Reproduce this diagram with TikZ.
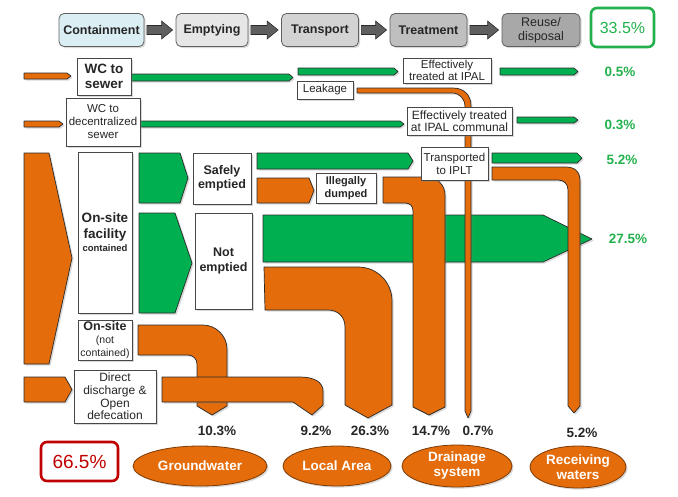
\documentclass[tikz,border=0pt]{standalone}
\usepackage{fontspec}
\setmainfont{Liberation Sans}
\usetikzlibrary{shadows,calc,shapes.geometric}
\definecolor{org}{HTML}{E46C0A}
\definecolor{grn}{HTML}{00B050}
\definecolor{pgrn}{HTML}{22B14C}
\definecolor{dred}{HTML}{C00000}
\definecolor{txt}{HTML}{262626}
\definecolor{edge}{HTML}{2A2A2A}
\definecolor{hblue}{HTML}{DAEEF3}
\definecolor{hgA}{HTML}{E6E6E6}
\definecolor{hgB}{HTML}{D3D3D3}
\definecolor{hgC}{HTML}{BFBFBF}
\definecolor{hgD}{HTML}{A8A8A8}
\definecolor{harrcol}{HTML}{5F5F5F}
\newcommand\fbar[6]{\path[#1] (#2,#3) -- ({#4-#6},#3) -- (#4,{(#3+#5)/2}) -- ({#4-#6},#5) -- (#2,#5) -- cycle;}
\newcommand\harr[2]{%
  \coordinate (ha) at ($(#1.east)+(2.5,0)$);
  \coordinate (hb) at ($(#2.west)+(-3,0)$);
  \path[harrow] ($(ha)+(0,-4.5)$) -- ($(hb)+(-11,-4.5)$) -- ($(hb)+(-11,-9)$) -- (hb)
     -- ($(hb)+(-11,9)$) -- ($(hb)+(-11,4.5)$) -- ($(ha)+(0,4.5)$) -- cycle;}
\tikzset{
  shad/.style={drop shadow={shadow xshift=1.6pt, shadow yshift=-1.6pt, opacity=0.3}},
  flowo/.style={fill=org, draw=edge, line width=0.7pt, line join=round, shad},
  flowg/.style={fill=grn, draw=edge, line width=0.7pt, line join=round, shad},
  wbox/.style={draw=txt!85, fill=white, line width=0.7pt, inner sep=0.5pt, align=center, text=txt, shad},
  hbox/.style={rounded corners=5pt, draw=gray!75!black, line width=0.8pt, text=txt, align=center,
     minimum height=33pt, inner sep=1pt, font=\fontsize{12.5}{14}\selectfont\bfseries, shad},
  harrow/.style={fill=harrcol, draw=edge, line width=0.6pt, line join=miter},
  gpct/.style={font=\fontsize{13.5}{15}\selectfont\bfseries, text=pgrn},
  bpct/.style={font=\fontsize{13.5}{15}\selectfont\bfseries, text=txt},
  sink/.style={ellipse, fill=org, draw=org!55!black, line width=0.8pt, text=white, align=center,
     inner sep=0pt, font=\fontsize{13.5}{15}\selectfont\bfseries, shad},
}
\begin{document}
\begin{tikzpicture}[x=1pt,y=-1pt]
\useasboundingbox (0,0) rectangle (678,496);
% header
\node[hbox, fill=hblue, minimum width=85] (cont) at (101.5,30) {Containment};
\node[hbox, fill=hgA, minimum width=72] (empt) at (212,30) {Emptying};
\node[hbox, fill=hgB, minimum width=77] (trans) at (320,30) {Transport};
\node[hbox, fill=hgC, minimum width=77] (treat) at (428.5,30) {Treatment};
\node[hbox, fill=hgD, minimum width=78, font=\fontsize{12.5}{14}\selectfont] (reuse) at (541,30) {Reuse/\\disposal};
\harr{cont}{empt}
\harr{empt}{trans}
\harr{trans}{treat}
\harr{treat}{reuse}
\node[draw=pgrn, line width=2.6pt, rounded corners=6pt, minimum width=63, minimum height=39,
      text=pgrn, font=\fontsize{16}{18}\selectfont] (tot1) at (622.5,27.5) {33.5\%};
% row 1 and row 2 flows
\fbar{flowo}{24}{73}{71}{79}{4}
\fbar{flowg}{131}{74}{293}{81}{4}
\fbar{flowg}{298}{68}{398}{75}{4}
\fbar{flowg}{500}{68}{578}{75}{4}
\fbar{flowo}{24}{121}{63}{127}{4}
\fbar{flowg}{140}{121}{404}{127}{4}
\fbar{flowg}{517}{117}{578}{123}{4}
% on-site flows
\path[flowo] (24,153) -- (49,153) -- (72,258) -- (49,364) -- (24,364) -- cycle;
\path[flowg] (139,153) -- (180,153) -- (188,178) -- (180,203) -- (139,203) -- cycle;
\path[flowg] (139,213) -- (175,213) -- (192,263) -- (175,313) -- (139,313) -- cycle;
\fbar{flowg}{257}{153}{413}{169}{5}
\fbar{flowo}{257}{178}{314}{203}{5}
\path[flowg] (263,215) -- (543,215) -- (592,239) -- (543,262) -- (263,262) -- cycle;
\fbar{flowg}{492}{153}{582}{163}{5}
\fbar{flowo}{24}{377}{72}{402}{7}
% orange pipes
\path[flowo] (264,267) -- (358,267) .. controls (377,267) and (392,282) .. (392,301) -- (392,405)
   -- (368,418) -- (345,405) -- (345,327) .. controls (345,317) and (338,310) .. (328,310) -- (265,310) -- cycle;
\path[flowo] (138,325) -- (203,325) .. controls (216,325) and (227,336) .. (227,349) -- (227,406)
   -- (212,415) -- (197,406) -- (197,364) .. controls (197,359) and (193,355) .. (188,355) -- (138,355) -- cycle;
\path[flowo] (162,377) -- (300,377) .. controls (314,377) and (323,382) .. (323,391) -- (323,405)
   -- (312,415) -- (293,402) -- (162,402) -- cycle;
\path[flowo] (383,177) -- (427,177) .. controls (437,177) and (445,185) .. (445,195) -- (445,407)
   -- (429,415) -- (413,407) -- (413,211) .. controls (413,206) and (410,203) .. (405,203) -- (383,203) -- cycle;
\path[flowo] (492,167) -- (566,167) .. controls (575,167) and (580,172) .. (580,181) -- (580,406)
   -- (574,413) -- (568,406) -- (568,190) .. controls (568,184) and (564,180) .. (558,180) -- (492,180) -- cycle;
\path[flowo] (357,88) -- (453,88) .. controls (464,88) and (471,95) .. (471,106) -- (471,411)
   -- (468,418) -- (465,411) -- (465,107) .. controls (465,99) and (460,93) .. (452,93) -- (357,93) -- cycle;
% text boxes
\node[wbox, minimum width=54, minimum height=37, font=\fontsize{13.5}{15.5}\selectfont\bfseries] (wcs) at (104,76.5) {WC to\\sewer};
\node[wbox, minimum width=74, minimum height=48, font=\fontsize{11.5}{13}\selectfont] (wcd) at (103,122) {WC to\\decentralized\\sewer};
\node[wbox, minimum width=56, minimum height=18, font=\fontsize{11.5}{13}\selectfont] (leak) at (325,90) {Leakage};
\node[wbox, minimum width=88, minimum height=25, font=\fontsize{11.5}{12.5}\selectfont] (ipal) at (447,70.5) {Effectively\\treated at IPAL};
\node[wbox, minimum width=105, minimum height=28, font=\fontsize{12}{12.5}\selectfont] (ipalc) at (459.5,121) {Effectively treated\\at IPAL communal};
\node[wbox, minimum width=54, minimum height=161, font=\fontsize{13.5}{15.5}\selectfont\bfseries] (onsite) at (105,232.5) {On-site\\facility\\[-2pt]{\fontsize{9.5}{11}\selectfont contained}};
\node[wbox, minimum width=58, minimum height=51, font=\fontsize{12.5}{14}\selectfont\bfseries] (safe) at (222,178.5) {Safely\\emptied};
\node[wbox, minimum width=57, minimum height=96, font=\fontsize{12.5}{15}\selectfont\bfseries] (note) at (223.5,261) {Not\\emptied};
\node[wbox, minimum width=60, minimum height=30, font=\fontsize{11}{12.5}\selectfont\bfseries] (illeg) at (346,188) {Illegally\\dumped};
\node[wbox, minimum width=67, minimum height=33, font=\fontsize{11.5}{13}\selectfont] (iplt) at (454.5,163.5) {Transported\\to IPLT};
\node[wbox, minimum width=54, minimum height=40, font=\fontsize{12.5}{13}\selectfont\bfseries] (onnc) at (105,340) {On-site\\{\fontsize{10.5}{11.5}\selectfont\mdseries (not}\\{\fontsize{10.5}{11.5}\selectfont\mdseries contained)}};
\node[wbox, minimum width=82, minimum height=53, font=\fontsize{12}{12.7}\selectfont] (dd) at (115,396.5) {Direct\\discharge \&\\Open\\defecation};
% percentages
\node[gpct] (p1) at (620,72) {0.5\%};
\node[gpct] (p2) at (620,125) {0.3\%};
\node[gpct] (p3) at (622,160) {5.2\%};
\node[gpct] (p4) at (628,239) {27.5\%};
\node[bpct] (q1) at (217,431) {10.3\%};
\node[bpct] (q2) at (316,431) {9.2\%};
\node[bpct] (q3) at (370,431) {26.3\%};
\node[bpct] (q4) at (431,431) {14.7\%};
\node[bpct] (q5) at (478,431) {0.7\%};
\node[bpct] (q6) at (582,433) {5.2\%};
% bottom
\node[draw=dred, line width=2.6pt, rounded corners=6pt, minimum width=77, minimum height=39,
      text=dred, font=\fontsize{19}{21}\selectfont] (tot2) at (79.5,461.5) {66.5\%};
\node[sink, minimum width=134, minimum height=40] (gw) at (200,466) {Groundwater};
\node[sink, minimum width=108, minimum height=40] (la) at (337,466) {Local Area};
\node[sink, minimum width=110, minimum height=42] (ds) at (457,466) {Drainage\\system};
\node[sink, minimum width=96, minimum height=42] (rw) at (578,467) {Receiving\\waters};
\end{tikzpicture}
\end{document}
